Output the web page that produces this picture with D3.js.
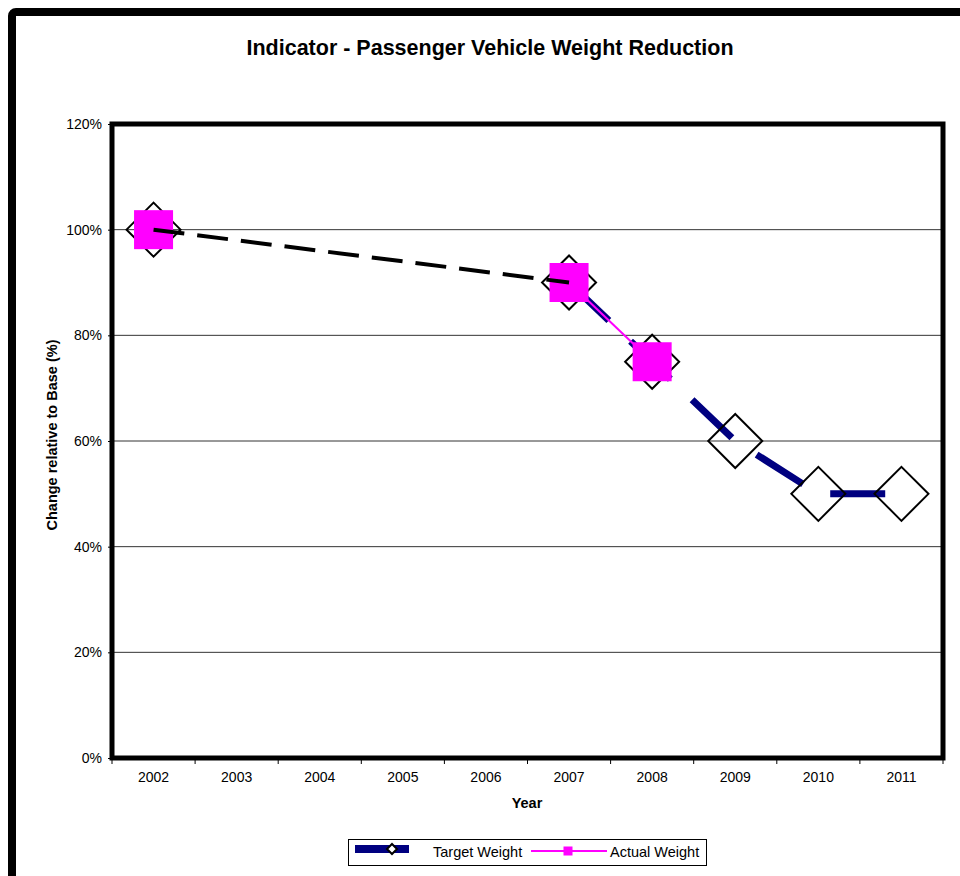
<!DOCTYPE html>
<html>
<head>
<meta charset="utf-8">
<script src="https://cdn.jsdelivr.net/npm/d3@7"></script>
<style>
  body { margin: 0; background: #fff; }
  svg { display: block; font-family: "Liberation Sans", Arial, sans-serif; }
</style>
</head>
<body>
<div id="chart"></div>
<script>
// data
var years = ["2002", "2003", "2004", "2005", "2006", "2007", "2008", "2009", "2010", "2011"];
var targetWeight = [100, null, null, null, null, 90, 75, 60, 50, 50];
var actualWeight = [100, null, null, null, null, 90, 75, null, null, null];
var yTicks = [0, 20, 40, 60, 80, 100, 120];

var W = 960, H = 876;
var margin = { top: 124, right: 17, bottom: 118, left: 112 };
var width = W - margin.left - margin.right,
    height = H - margin.top - margin.bottom;

var svg = d3.select("#chart").append("svg")
  .attr("width", W)
  .attr("height", H);

// outer frame
svg.append("rect")
  .attr("x", 12).attr("y", 12)
  .attr("width", W + 20).attr("height", H - 3)
  .attr("rx", 4)
  .attr("fill", "none")
  .attr("stroke", "#000")
  .attr("stroke-width", 8);

svg.append("text")
  .attr("x", 490).attr("y", 55)
  .attr("text-anchor", "middle")
  .style("font-size", "21.5px")
  .style("font-weight", "bold")
  .text("Indicator - Passenger Vehicle Weight Reduction");

var g = svg.append("g")
  .attr("transform", "translate(" + margin.left + "," + margin.top + ")");

var x = d3.scaleBand().domain(years).range([0, width]);
var y = d3.scaleLinear().domain([0, 120]).range([height, 0]);
var cx = function(i) { return x(years[i]) + x.bandwidth() / 2; };

// gridlines
g.selectAll(".grid")
  .data(yTicks.filter(function(d) { return d > 0 && d < 120; }))
  .enter().append("line")
  .attr("x1", 0).attr("x2", width)
  .attr("y1", function(d) { return y(d); })
  .attr("y2", function(d) { return y(d); })
  .attr("stroke", "#333")
  .attr("stroke-width", 1);

// y axis
var yAxis = d3.axisLeft(y).tickValues(yTicks).tickSize(4).tickSizeOuter(0)
  .tickFormat(function(d) { return d + "%"; }).tickPadding(6);
var ya = g.append("g").call(yAxis);
ya.select(".domain").remove();
ya.selectAll("text").style("font-size", "14px").attr("fill", "#000");

// x axis: ticks on band boundaries
var xa = g.append("g").attr("transform", "translate(0," + height + ")")
  .call(d3.axisBottom(x).tickSize(0).tickPadding(14));
xa.select(".domain").remove();
xa.selectAll("text").style("font-size", "14px").attr("fill", "#000");
g.selectAll(".xtick")
  .data(years.concat(["end"]))
  .enter().append("line")
  .attr("x1", function(d, i) { return i * x.step(); })
  .attr("x2", function(d, i) { return i * x.step(); })
  .attr("y1", height).attr("y2", height + 6)
  .attr("stroke", "#000");

// plot frame
g.append("rect")
  .attr("width", width).attr("height", height)
  .attr("fill", "none")
  .attr("stroke", "#000")
  .attr("stroke-width", 5);

// axis titles
svg.append("text")
  .attr("x", 527).attr("y", 808)
  .attr("text-anchor", "middle")
  .style("font-size", "14.5px").style("font-weight", "bold")
  .text("Year");
svg.append("text")
  .attr("transform", "translate(57,435) rotate(-90)")
  .attr("text-anchor", "middle")
  .style("font-size", "14.5px").style("font-weight", "bold")
  .text("Change relative to Base (%)");

// target series: consecutive points in navy long dash, gaps bridged with black dash
var tPts = [];
targetWeight.forEach(function(v, i) { if (v != null) tPts.push({ i: i, v: v }); });
var consec = [], bridge = [];
for (var k = 1; k < tPts.length; k++) {
  if (tPts[k].i - tPts[k - 1].i == 1) {
    if (!consec.length || consec[consec.length - 1] !== tPts[k - 1]) consec.push(tPts[k - 1]);
    consec.push(tPts[k]);
  } else {
    bridge.push([tPts[k - 1], tPts[k]]);
  }
}
var line = d3.line()
  .x(function(d) { return cx(d.i); })
  .y(function(d) { return y(d.v); });

g.append("path")
  .datum(consec)
  .attr("d", line)
  .attr("fill", "none")
  .attr("stroke", "#000080")
  .attr("stroke-width", 7)
  .attr("stroke-dasharray", "55,30");

function diamondPath(r) {
  return "M0," + (-r) + "L" + r + ",0L0," + r + "L" + (-r) + ",0Z";
}
g.selectAll(".diam")
  .data(tPts)
  .enter().append("path")
  .attr("d", diamondPath(27))
  .attr("transform", function(d) { return "translate(" + cx(d.i) + "," + y(d.v) + ")"; })
  .attr("fill", "none")
  .attr("stroke", "#000")
  .attr("stroke-width", 2);

// actual series
var aPts = [];
actualWeight.forEach(function(v, i) { if (v != null) aPts.push({ i: i, v: v }); });
var aLine = aPts.filter(function(d, k) {
  return (k > 0 && d.i - aPts[k - 1].i == 1) || (k < aPts.length - 1 && aPts[k + 1].i - d.i == 1);
});
g.append("path")
  .datum(aLine)
  .attr("d", line)
  .attr("fill", "none")
  .attr("stroke", "#ff00ff")
  .attr("stroke-width", 2);
g.selectAll(".sq")
  .data(aPts)
  .enter().append("rect")
  .attr("x", function(d) { return cx(d.i) - 19.5; })
  .attr("y", function(d) { return y(d.v) - 19.5; })
  .attr("width", 39).attr("height", 39)
  .attr("fill", "#ff00ff");

// bridged gaps of the target series
g.selectAll(".bridge")
  .data(bridge)
  .enter().append("path")
  .attr("d", line)
  .attr("fill", "none")
  .attr("stroke", "#000")
  .attr("stroke-width", 4)
  .attr("stroke-dasharray", "31,13");

// legend
var lg = svg.append("g");
lg.append("rect")
  .attr("x", 348.5).attr("y", 839.5)
  .attr("width", 358).attr("height", 26)
  .attr("fill", "#fff").attr("stroke", "#000");
lg.append("line")
  .attr("x1", 355).attr("x2", 409).attr("y1", 849).attr("y2", 849)
  .attr("stroke", "#000080").attr("stroke-width", 8);
lg.append("path")
  .attr("d", diamondPath(5))
  .attr("transform", "translate(392,849)")
  .attr("fill", "#fff").attr("stroke", "#000").attr("stroke-width", 2);
lg.append("text")
  .attr("x", 433).attr("y", 857)
  .style("font-size", "14.5px")
  .text("Target Weight");
lg.append("line")
  .attr("x1", 531).attr("x2", 607).attr("y1", 851).attr("y2", 851)
  .attr("stroke", "#ff00ff").attr("stroke-width", 2);
lg.append("rect")
  .attr("x", 563.5).attr("y", 846.5).attr("width", 9).attr("height", 9)
  .attr("fill", "#ff00ff");
lg.append("text")
  .attr("x", 610).attr("y", 857)
  .style("font-size", "14.5px")
  .text("Actual Weight");
</script>
</body>
</html>
